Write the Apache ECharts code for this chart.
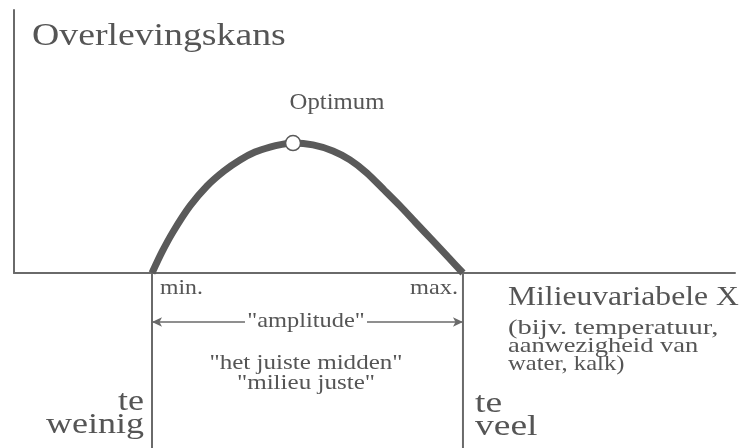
<!DOCTYPE html>
<html>
<head>
<meta charset="utf-8">
<script src="https://cdn.jsdelivr.net/npm/echarts@6/dist/echarts.min.js"></script>
<style>
  html, body { margin: 0; padding: 0; background: #fff; }
  #chart { width: 744px; height: 448px; }
</style>
</head>
<body>
<div id="chart"></div>
<script>
// tolerance curve: survival chance against an environmental variable
const curveX = [19.14, 20.53, 22.05, 24.41, 26.77, 29.13, 31.35, 33.43, 35.51, 37.17, 38.7,
                41.47, 44.24, 46.6, 48.96, 51.32, 53.54, 55.76, 58.11, 60.19, 62.27];
const curveY = [0, 0.08, 0.156, 0.255, 0.331, 0.388, 0.43, 0.46, 0.479, 0.489, 0.494,
                0.487, 0.464, 0.43, 0.38, 0.316, 0.255, 0.19, 0.122, 0.061, 0];
const xMin = 19.14;
const xMax = 62.27;
const optimum = [38.7, 0.494];
const amplitudeLevel = 0.28; // height of the arrow below the axis (lower panel units)

const ink = "#555";
const lineColor = "#6a6a6a";
const curveColor = "#5a5a5a";
const serif = "'Liberation Serif', 'Times New Roman', Times, serif";

const chart = echarts.init(document.getElementById("chart"));

function label(text, x, y, size, align, sx, extra) {
  return {
    type: "text",
    x: x,
    y: y,
    scaleX: sx,
    z: 100,
    style: Object.assign({
      text: text,
      fontFamily: serif,
      fontSize: size,
      fill: ink,
      align: align,
      verticalAlign: "middle",
    }, extra || {}),
  };
}

const curve = curveX.map((x, i) => [x, curveY[i]]);

const option = {
  animation: false,
  backgroundColor: "#fff",
  grid: [
    { left: 14, right: 9, top: 10, bottom: 175 },
    { left: 14, right: 9, top: 273, bottom: 0 },
  ],
  xAxis: [
    {
      type: "value", gridIndex: 0, min: 0, max: 100,
      axisLine: { show: true, lineStyle: { color: lineColor, width: 2 } },
      axisTick: { show: false }, axisLabel: { show: false }, splitLine: { show: false },
    },
    { type: "value", gridIndex: 1, min: 0, max: 100, show: false },
  ],
  yAxis: [
    {
      type: "value", gridIndex: 0, min: 0, max: 1,
      axisLine: { show: true, lineStyle: { color: lineColor, width: 2 } },
      axisTick: { show: false }, axisLabel: { show: false }, splitLine: { show: false },
    },
    { type: "value", gridIndex: 1, min: 0, max: 1, inverse: true, show: false },
  ],
  series: [
    {
      type: "line",
      data: curve,
      smooth: 0.25,
      symbol: "none",
      lineStyle: { color: curveColor, width: 7 },
      z: 3,
    },
    {
      type: "scatter",
      data: [optimum],
      symbol: "circle",
      symbolSize: 15,
      itemStyle: { color: "#fff", opacity: 1, borderColor: curveColor, borderWidth: 1.5 },
      z: 5,
    },
    {
      type: "line",
      xAxisIndex: 1, yAxisIndex: 1,
      data: [[xMin, 0], [xMin, 1]],
      symbol: "none",
      lineStyle: { color: lineColor, width: 2 },
      markLine: {
        silent: true,
        symbol: ["arrow", "arrow"],
        symbolSize: [7, 10],
        label: { show: false },
        lineStyle: { color: lineColor, width: 1.5, type: "solid" },
        data: [[{ coord: [xMin, amplitudeLevel] }, { coord: [xMax, amplitudeLevel] }]],
      },
    },
    {
      type: "line",
      xAxisIndex: 1, yAxisIndex: 1,
      data: [[xMax, 0], [xMax, 1]],
      symbol: "none",
      lineStyle: { color: lineColor, width: 2 },
    },
  ],
  graphic: [
    label("Overlevingskans", 32, 37, 32, "left", 1.18),
    label("Optimum", 337, 103, 24, "center", 1.03),
    label("min.", 160, 288, 21, "left", 1.13),
    label("max.", 458, 288, 21, "right", 1.16),
    label('"amplitude"', 306, 321, 22, "center", 1.11, { backgroundColor: "#fff", padding: [0, 2] }),
    label('"het juiste midden"', 306, 363, 22, "center", 1.14),
    label('"milieu juste"', 306, 383, 22, "center", 1.14),
    label("Milieuvariabele X", 508, 298, 27, "left", 1.17),
    label("(bijv. temperatuur,", 508, 328, 21, "left", 1.36),
    label("aanwezigheid van", 508, 346, 21, "left", 1.26),
    label("water, kalk)", 508, 364, 21, "left", 1.17),
    label("te", 144, 402, 30, "right", 1.2),
    label("weinig", 144, 425, 30, "right", 1.2),
    label("te", 475, 404, 30, "left", 1.25),
    label("veel", 475, 427, 30, "left", 1.25),
  ],
};

chart.setOption(option);
</script>
</body>
</html>
